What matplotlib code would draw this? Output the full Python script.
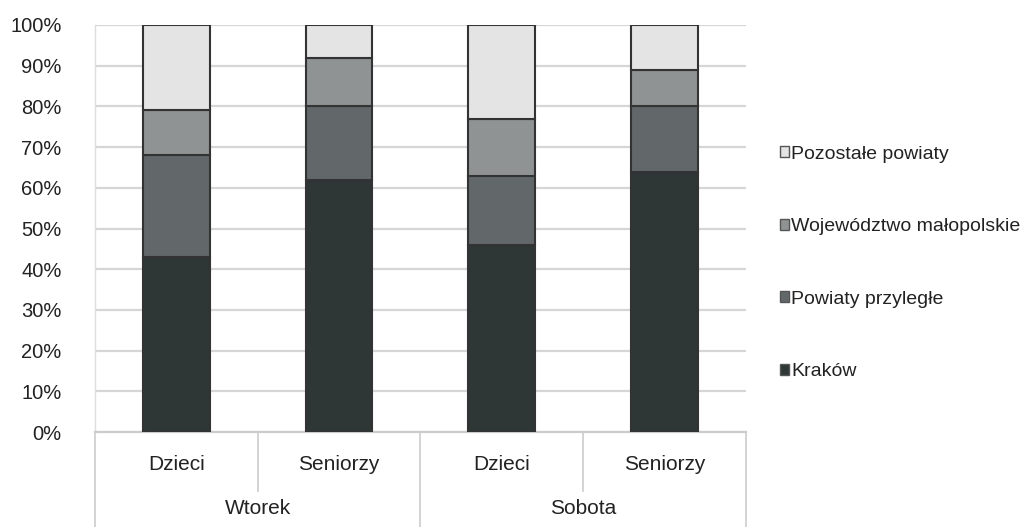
import matplotlib
matplotlib.use("Agg")
import matplotlib.pyplot as plt
from matplotlib.lines import Line2D
from matplotlib.patches import Patch
import numpy as np

groups = ["Wtorek", "Sobota"]
subgroups = ["Dzieci", "Seniorzy", "Dzieci", "Seniorzy"]
series = ["Kraków", "Powiaty przyległe", "Województwo małopolskie", "Pozostałe powiaty"]
krakow = [43, 62, 46, 64]
przylegle = [25, 18, 17, 16]
wojewodztwo = [11, 12, 14, 9]
pozostale = [21, 8, 23, 11]
yticks = [0, 10, 20, 30, 40, 50, 60, 70, 80, 90, 100]

colors = ["#2e3636", "#62686a", "#909394", "#e4e4e4"]

plt.rcParams['font.family'] = ['Liberation Sans', 'DejaVu Sans']

fig = plt.figure(figsize=(10.36, 5.27), dpi=100)
ax = fig.add_axes([0.0917, 0.180, 0.628, 0.7726])

x = np.arange(len(subgroups)) + 0.5
bottom = np.zeros(len(subgroups))
for vals, col, name in zip([krakow, przylegle, wojewodztwo, pozostale], colors, series):
    ax.bar(x, vals, width=0.41, bottom=bottom, color=col, edgecolor="#333333",
           linewidth=1.5, label=name, zorder=3)
    bottom += np.array(vals)

ax.set_xlim(0, 4)
ax.set_ylim(0, 100)
ax.set_yticks(yticks)
ax.set_yticklabels([f"{t}%" for t in yticks], fontsize=14.5, color="#222222")
ax.yaxis.grid(True, color="#d6d6d6", linewidth=1.6, zorder=0)
ax.tick_params(axis="y", length=0, pad=24)
ax.set_xticks([])
for s in ["top", "right", "left"]:
    ax.spines[s].set_visible(False)
ax.spines["bottom"].set_color("#cccccc")
ax.spines["bottom"].set_linewidth(1.6)

# two-level category axis
tr = ax.transAxes
for xi in x:
    ax.text(xi / 4, -0.08, subgroups[int(xi)], transform=tr, ha="center", va="center",
            fontsize=15, color="#222222")
for gi, g in enumerate(groups):
    ax.text((gi * 2 + 1) / 4, -0.187, g, transform=tr, ha="center", va="center",
            fontsize=15, color="#222222")
for xs, y0 in [(0, -0.245), (1, -0.145), (2, -0.245), (3, -0.145), (4, -0.245)]:
    ax.add_line(Line2D([xs / 4, xs / 4], [0, y0], transform=tr, color="#cccccc",
                       linewidth=1.2, clip_on=False))
ax.add_line(Line2D([0, 0], [0, 1], transform=tr, color="#dddddd", linewidth=1.0, clip_on=False))

handles = [Patch(facecolor=c, edgecolor="#555555", linewidth=1.0) for c in colors]
leg = fig.legend(handles[::-1], series[::-1], loc="upper left",
                 bbox_to_anchor=(0.745, 0.738), frameon=False, fontsize=14,
                 handlelength=0.5, handleheight=0.5, handletextpad=0.1,
                 labelspacing=2.85, borderaxespad=0)
for t in leg.get_texts():
    t.set_color("#222222")

fig.savefig("out.png", dpi=100)
